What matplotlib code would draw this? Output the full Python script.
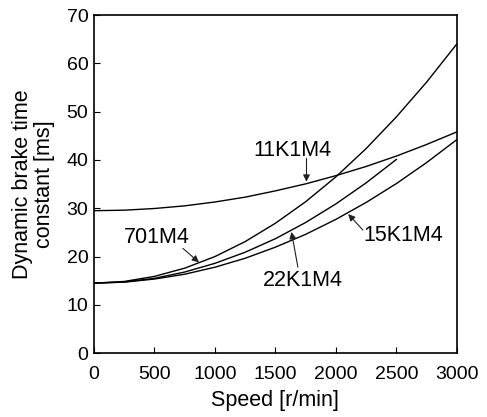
import matplotlib
matplotlib.use("Agg")
import matplotlib.pyplot as plt

plt.rcParams["font.family"] = ["Liberation Sans", "DejaVu Sans"]

# values (speed in r/min, time constant in ms)
speed = [0, 250, 500, 750, 1000, 1250, 1500, 1750, 2000, 2250, 2500, 2750, 3000]
tc_11k1m4 = [29.5, 29.6, 29.95, 30.5, 31.3, 32.3, 33.6, 35.05, 36.75, 38.65, 40.8, 43.2, 45.8]
tc_701m4 = [14.5, 14.85, 15.9, 17.6, 20.0, 23.1, 26.9, 31.35, 36.5, 42.35, 48.9, 56.1, 64.0]
tc_15k1m4 = [14.5, 14.7, 15.35, 16.35, 17.8, 19.65, 21.95, 24.6, 27.7, 31.2, 35.1, 39.45, 44.2]
speed_22k = [0, 250, 500, 750, 1000, 1250, 1500, 1750, 2000, 2250, 2500]
tc_22k1m4 = [14.5, 14.75, 15.5, 16.8, 18.6, 20.9, 23.7, 27.05, 30.9, 35.25, 40.1]

# label text, text position, arrow tip
labels = ["11K1M4", "701M4", "22K1M4", "15K1M4"]
label_xy = [(1645, 42.0), (520, 24.0), (1727, 15.1), (2554, 24.4)]
arrow_tail = [(1757, 40.3), (735, 21.7), (1686, 17.8), (2223, 25.5)]
arrow_tip = [(1757, 35.5), (868, 18.8), (1633, 25.1), (2102, 28.8)]

tick_fs = 14
text_fs = 15.5

fig = plt.figure(figsize=(4.87, 4.17), dpi=100)
ax = fig.add_axes([0.193, 0.153, 0.745, 0.811])

for xs, ys in [(speed, tc_11k1m4), (speed, tc_701m4), (speed, tc_15k1m4), (speed_22k, tc_22k1m4)]:
    ax.plot(xs, ys, color="black", linewidth=1.0)

for text, pos, tail, tip in zip(labels, label_xy, arrow_tail, arrow_tip):
    ax.text(pos[0], pos[1], text, ha="center", va="center", fontsize=text_fs)
    ax.annotate("", xy=tip, xytext=tail,
                arrowprops=dict(arrowstyle="-|>", color="#231f20", lw=0.8,
                                mutation_scale=10, shrinkA=0, shrinkB=0))

ax.set_xlim(0, 3000)
ax.set_ylim(0, 70)
ax.set_xticks(range(0, 3001, 500))
ax.set_yticks(range(0, 71, 10))
ax.tick_params(direction="in", length=4, width=0.8, labelsize=tick_fs)
ax.tick_params(axis="x", pad=9)
ax.tick_params(axis="y", pad=4)
for sp in ax.spines.values():
    sp.set_linewidth(1.2)

ax.set_xlabel("Speed [r/min]", fontsize=text_fs, labelpad=5)
ax.set_ylabel("Dynamic brake time\nconstant [ms]", fontsize=text_fs, labelpad=8,
              linespacing=1.1)

fig.savefig("out.png", dpi=100)
